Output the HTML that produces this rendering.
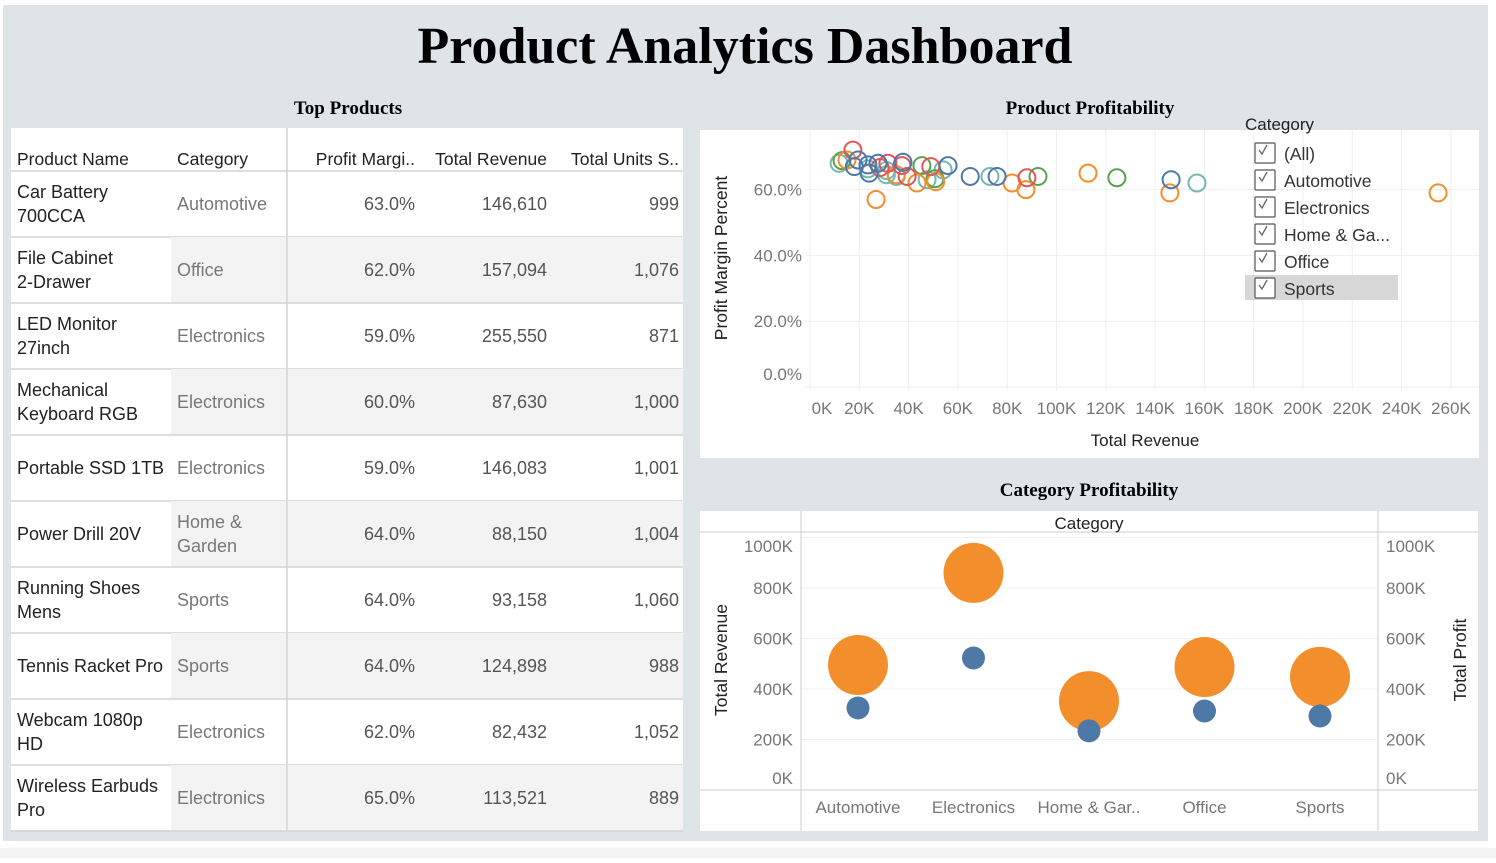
<!DOCTYPE html>
<html><head><meta charset="utf-8"><style>
body{margin:0;width:1496px;height:858px;overflow:hidden;background:#fff;font-family:"Liberation Sans",sans-serif}
svg text{font-family:"Liberation Sans",sans-serif}
</style></head><body>
<svg id="s" width="1496" height="858" xmlns="http://www.w3.org/2000/svg">
<rect x="0" y="0" width="1496" height="858" fill="#fff"/>
<rect x="3" y="5" width="1485" height="836" fill="#dfe5e7"/>
<rect x="0" y="848" width="1496" height="10" fill="#f3f3f3"/>
<text x="745" y="63" text-anchor="middle" style="font-family:'Liberation Serif',serif" font-weight="bold" font-size="52" fill="#000">Product Analytics Dashboard</text>
<text x="348" y="114" text-anchor="middle" style="font-family:'Liberation Serif',serif" font-weight="bold" font-size="19">Top Products</text>
<text x="1090" y="114" text-anchor="middle" style="font-family:'Liberation Serif',serif" font-weight="bold" font-size="19">Product Profitability</text>
<text x="1089" y="496" text-anchor="middle" style="font-family:'Liberation Serif',serif" font-weight="bold" font-size="19">Category Profitability</text>
<g id="table"></g>
<g id="scatter"></g>
<g id="bubble"></g>
</svg>
<script>
const NS='http://www.w3.org/2000/svg';
function mk(p,tag,a,txt){const e=document.createElementNS(NS,tag);for(const k in a)e.setAttribute(k,a[k]);if(txt!==undefined)e.textContent=txt;p.appendChild(e);return e;}

// ---------- TABLE ----------
const prodNames=[["Car Battery","700CCA"],["File Cabinet","2-Drawer"],["LED Monitor","27inch"],["Mechanical","Keyboard RGB"],["Portable SSD 1TB"],["Power Drill 20V"],["Running Shoes","Mens"],["Tennis Racket Pro"],["Webcam 1080p","HD"],["Wireless Earbuds","Pro"]];
const prodCats=[["Automotive"],["Office"],["Electronics"],["Electronics"],["Electronics"],["Home &","Garden"],["Sports"],["Sports"],["Electronics"],["Electronics"]];
const prodMargin=["63.0%","62.0%","59.0%","60.0%","59.0%","64.0%","64.0%","64.0%","62.0%","65.0%"];
const prodRevenue=["146,610","157,094","255,550","87,630","146,083","88,150","93,158","124,898","82,432","113,521"];
const prodUnits=["999","1,076","871","1,000","1,001","1,004","1,060","988","1,052","889"];
const T=document.getElementById('table');
mk(T,'rect',{x:11,y:128,width:672,height:702,fill:'#fff'});
const hdr=[["Product Name",17,'start'],["Category",177,'start'],["Profit Margi..",415,'end'],["Total Revenue",547,'end'],["Total Units S..",679,'end']];
hdr.forEach(h=>{const t=mk(T,'text',{x:h[1],y:165,'text-anchor':h[2],'font-size':17.5,fill:'#222'},h[0]);

});
mk(T,'line',{x1:11,y1:171,x2:683,y2:171,stroke:'#d4d4d4','stroke-width':1.5});
prodNames.forEach((n,i)=>{
  const y0=171+i*66, cy=y0+33;
  if(i%2==1){mk(T,'rect',{x:171,y:y0,width:512,height:66,fill:'#f3f3f3'});}
  mk(T,'line',{x1:11,y1:y0+66,x2:683,y2:y0+66,stroke:'#d4d4d4','stroke-width':1.5});
  const g=mk(T,'g',{});
  
  
  const lines=(arr,x,col)=>arr.forEach((s,j)=>mk(g,'text',{x:x,y:cy+6+(j-(arr.length-1)/2)*24,'font-size':18,fill:col},s));
  lines(n,17,'#222');lines(prodCats[i],177,'#777');
  mk(g,'text',{x:415,y:cy+6,'text-anchor':'end','font-size':18,fill:'#555'},prodMargin[i]);
  mk(g,'text',{x:547,y:cy+6,'text-anchor':'end','font-size':18,fill:'#555'},prodRevenue[i]);
  mk(g,'text',{x:679,y:cy+6,'text-anchor':'end','font-size':18,fill:'#555'},prodUnits[i]);
});
mk(T,'line',{x1:287,y1:128,x2:287,y2:830,stroke:'#d4d4d4','stroke-width':1.5});

// ---------- SCATTER ----------
const xTicks=[0,20,40,60,80,100,120,140,160,180,200,220,240,260];
const yTicks=[0,20,40,60];
const redRev=[17.4,31.6,28.4,37.3,39.4,49,88];
const redMargin=[72,68,66.7,67.3,64,67,63.6];
const greenRev=[13,45.4,50.7,92.5,124.5];
const greenMargin=[68.8,67.3,63.3,64,63.6];
const tealRev=[11.8,23.5,31,31,35,47.5,54,73,157];
const tealMargin=[68,66.3,65.8,64.5,64,63,66,64,62];
const orangeRev=[15,35,26.8,43.4,51,82,87.6,112.8,146,254.8];
const orangeMargin=[69,64.5,57,62,62.4,62,60,65,59,59];
const blueRev=[19.5,18,23.5,24,27.6,37.7,56,65,75.9,146.5];
const blueMargin=[69,67,67.5,65,68,68.3,67.3,64,64,63];
const S=document.getElementById('scatter');
const sx=v=>810+v*49.3/20, sy=v=>387-v*3.29;
mk(S,'rect',{x:700,y:130,width:779,height:328,fill:'#fff'});
xTicks.forEach(t=>{mk(S,'line',{x1:sx(t),y1:130,x2:sx(t),y2:390,stroke:'#efefef'});
 const l=mk(S,'text',{x:t==0?822:sx(t),y:414,'text-anchor':'middle','font-size':17,fill:'#777'},t+'K');
 
 });
yTicks.forEach(t=>{mk(S,'line',{x1:805,y1:sy(t),x2:1479,y2:sy(t),stroke:'#efefef'});
 const l=mk(S,'text',{x:802,y:(t==0?sy(t)-13:sy(t))+6,'text-anchor':'end','font-size':17,fill:'#777'},t.toFixed(1)+'%');
 
 });
let at=mk(S,'text',{x:1145,y:446,'text-anchor':'middle','font-size':17,fill:'#222'},'Total Revenue');


at=mk(S,'text',{transform:'translate(727,258) rotate(-90)','text-anchor':'middle','font-size':17.5,fill:'#222'},'Profit Margin Percent');


const series=[[tealRev,tealMargin,'#76b7b2'],[greenRev,greenMargin,'#59a14f'],[orangeRev,orangeMargin,'#f28e2b'],[redRev,redMargin,'#e15759'],[blueRev,blueMargin,'#4e79a7']];
series.forEach(s=>s[0].forEach((v,i)=>{
 const c=mk(S,'circle',{cx:sx(v),cy:sy(s[1][i]),r:8.5,fill:'none',stroke:s[2],'stroke-width':2});
 
 }));
const filt=["(All)","Automotive","Electronics","Home & Ga...","Office","Sports"];
mk(S,'rect',{x:1245,y:275,width:153,height:25,fill:'#d7d7d7'});
let ft=mk(S,'text',{x:1245,y:130,'font-size':17,fill:'#222'},'Category');


filt.forEach((f,i)=>{const y=153+i*27;
 const g=mk(S,'g',{});
 
 
 mk(g,'rect',{x:1255,y:y-10,width:20,height:20,fill:'#fff',stroke:'#555','stroke-width':1.2,rx:1});
 mk(g,'path',{d:`M1259 ${y-3} l3 4 l5 -9`,fill:'none',stroke:'#666','stroke-width':1.3});
 mk(g,'text',{x:1284,y:y+7,'font-size':17.5,fill:'#333'},f);});

// ---------- BUBBLE ----------
const cats=["Automotive","Electronics","Home & Gar..","Office","Sports"];
const catRevenue=[495,860,352,487,448];
const catProfit=[325,523,234,313,293];
const bTicks=[0,200,400,600,800,1000];
const B=document.getElementById('bubble');
const bx=i=>858+i*115.5, by=v=>790-v*0.2525;
mk(B,'rect',{x:700,y:511,width:778,height:320,fill:'#fff'});
bTicks.forEach(t=>{ if(t>0) mk(B,'line',{x1:801,y1:by(t),x2:1378,y2:by(t),stroke:'#efefef'});
 let yy=t==0?784:t==1000?552:by(t)+6;
 const l=mk(B,'text',{x:793,y:yy,'text-anchor':'end','font-size':17,fill:'#777'},t+'K');
 
 
 const l2=mk(B,'text',{x:1386,y:yy,'font-size':17,fill:'#777'},t+'K');
 
 });
mk(B,'line',{x1:700,y1:532,x2:1478,y2:532,stroke:'#ccc'});
mk(B,'line',{x1:700,y1:790,x2:1478,y2:790,stroke:'#ccc'});
mk(B,'line',{x1:801,y1:511,x2:801,y2:831,stroke:'#ccc'});
mk(B,'line',{x1:1378,y1:511,x2:1378,y2:831,stroke:'#ccc'});
let ct=mk(B,'text',{x:1089,y:529,'text-anchor':'middle','font-size':17,fill:'#222'},'Category');


ct=mk(B,'text',{transform:'translate(727,660) rotate(-90)','text-anchor':'middle','font-size':17.5,fill:'#222'},'Total Revenue');


ct=mk(B,'text',{transform:'translate(1466,660) rotate(-90)','text-anchor':'middle','font-size':17.5,fill:'#222'},'Total Profit');


cats.forEach((c,i)=>{
 const l=mk(B,'text',{x:bx(i),y:813,'text-anchor':'middle','font-size':17,fill:'#777'},c);
 
 
 const o=mk(B,'circle',{cx:bx(i),cy:by(catRevenue[i]),r:30,fill:'#f28e2b'});
 
 
});
cats.forEach((c,i)=>{
 const b=mk(B,'circle',{cx:bx(i),cy:by(catProfit[i]),r:11.5,fill:'#4e79a7'});
 
 
});
</script>
</body></html>
